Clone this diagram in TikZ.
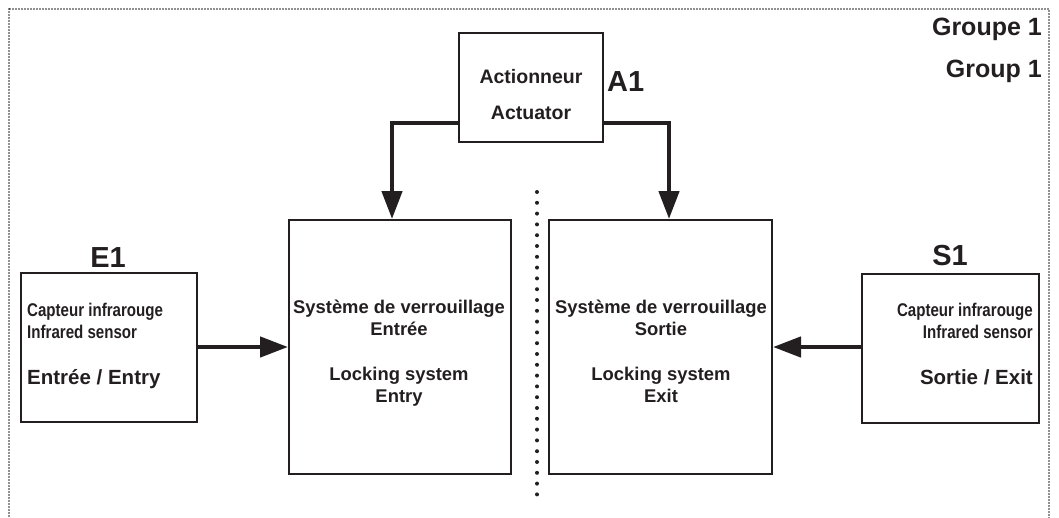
\documentclass[tikz,border=0pt]{standalone}
\usepackage{fontspec}
\setmainfont{Liberation Sans}
\newfontfamily\narrowsans[FakeStretch=0.82]{Liberation Sans}
\usetikzlibrary{arrows.meta}
\definecolor{ink}{HTML}{231F20}

\tikzset{
    box/.style={draw=ink, line width=2pt, inner sep=0pt},
    flow/.style={draw=ink, line width=4.5pt, -{Triangle[length=28pt,width=20pt]}},
    boxtext/.style={text=ink, font=\bfseries\fontsize{18.4}{22}\selectfont, inner sep=0pt},
    tag/.style={text=ink, font=\bfseries\fontsize{29}{30}\selectfont, inner sep=0pt, anchor=base},
    grouptag/.style={text=ink, font=\bfseries\fontsize{25}{30}\selectfont, inner sep=0pt, anchor=base east},
}

\begin{document}
\begin{tikzpicture}[x=1pt,y=-1pt]
    \useasboundingbox (0,0) rectangle (1059,517);
    % frame and separator
    \draw[ink, line width=1.6pt, line cap=round, dash pattern=on 0pt off 3pt] (9,9) rectangle (1049,540);
    \draw[ink, line width=4pt, line cap=round, dash pattern=on 0pt off 10.8pt] (537,192) -- (537,497);

    % actuator
    \node[box, minimum width=144, minimum height=109] (act) at (531,87.5) {};
    \node[boxtext, align=center, font=\bfseries\fontsize{19.5}{22}\selectfont] (act-txt) at (531,95) {Actionneur\\[14pt]Actuator};
    \node[tag, anchor=base west] (a1) at (607,91) {A1};

    % locking systems
    \node[box, minimum width=222, minimum height=254] (lockin) at (400,347) {};
    \node[box, minimum width=223, minimum height=254] (lockout) at (660.5,347) {};
    \node[boxtext, align=center, anchor=north] (lockin-txt) at (399,300)
        {Système de verrouillage\\Entrée\\[23pt]Locking system\\Entry};
    \node[boxtext, align=center, anchor=north] (lockout-txt) at (661,300)
        {Système de verrouillage\\Sortie\\[23pt]Locking system\\Exit};

    % sensors
    \node[box, minimum width=176, minimum height=149] (entry) at (109,347.5) {};
    \node[boxtext, align=left, anchor=north west] (entry-txt) at (27,303)
        {{\narrowsans Capteur infrarouge}\\{\narrowsans Infrared sensor}\\[24pt]{\fontsize{20.5}{22}\selectfont Entrée / Entry}};
    \node[tag] (e1) at (108,267) {E1};

    \node[box, minimum width=177, minimum height=149] (exit) at (950.5,348.5) {};
    \node[boxtext, align=right, anchor=north east] (exit-txt) at (1033,303)
        {{\narrowsans Capteur infrarouge}\\{\narrowsans Infrared sensor}\\[24pt]{\fontsize{20.5}{22}\selectfont Sortie / Exit}};
    \node[tag] (s1) at (950,265) {S1};

    \node[grouptag] (grp-fr) at (1042,35) {Groupe 1};
    \node[grouptag] (grp-en) at (1042,77) {Group 1};

    % connections
    \draw[flow] ([yshift=-35.5pt]act.west) -| ([xshift=-8pt]lockin.north);
    \draw[flow] ([yshift=-35.5pt]act.east) -| ([xshift=8.5pt]lockout.north);
    \draw[flow] (entry.east |- lockin) -- (lockin.west);
    \draw[flow] (exit.west |- lockout) -- (lockout.east);
\end{tikzpicture}
\end{document}
